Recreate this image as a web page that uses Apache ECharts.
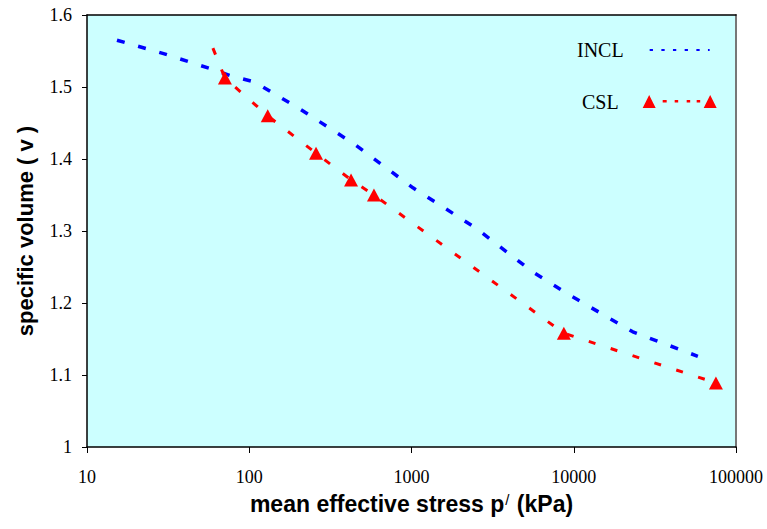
<!DOCTYPE html>
<html>
<head>
<meta charset="utf-8">
<script src="https://cdn.jsdelivr.net/npm/echarts@6/dist/echarts.min.js"></script>
<style>
  html, body { margin: 0; padding: 0; background: #ffffff; }
  #chart { width: 767px; height: 529px; }
</style>
</head>
<body>
<div id="chart"></div>
<script>
// ---- data ----
const seriesNames = ['INCL', 'CSL'];
const inclP = [15.3, 30, 56.5, 78.2, 108, 144, 191, 442, 1021, 2495, 5520, 9590, 23100, 58200];
const inclV = [1.565, 1.546, 1.526, 1.515, 1.507, 1.490, 1.474, 1.421, 1.360, 1.304, 1.244, 1.210, 1.160, 1.126];
const cslP = [59.7, 70.8, 130, 258, 424, 587, 8690, 75200];
const cslV = [1.554, 1.5125, 1.460, 1.408, 1.371, 1.350, 1.158, 1.089];
const xTicks = [10, 100, 1000, 10000, 100000];
const yTicks = [1, 1.1, 1.2, 1.3, 1.4, 1.5, 1.6];

const xTitle = 'mean effective stress p{sup|/} (kPa)';
const yTitle = 'specific volume ( v )';

const zip = (a, b) => a.map((x, i) => [x, b[i]]);

const serif = '"Liberation Serif", "Times New Roman", serif';
const sans = '"Liberation Sans", Arial, sans-serif';

const chart = echarts.init(document.getElementById('chart'), null, { renderer: 'svg' });

const inclIcon = 'path://M0,0h3.3v2h-3.3z M11.7,0h3.3v2h-3.3z M23.3,0h3.3v2h-3.3z M35,0h3.3v2h-3.3z M46.7,0h3.3v2h-3.3z M58.3,0h1.7v2h-1.7z';
const cslIcon = 'path://M0,13L6.5,0L13,13Z M20,5h4v2.4h-4z M32,5h3.5v2.4h-3.5z M44,5h3.5v2.4h-3.5z M54,5h3.5v2.4h-3.5z M61,13L67.5,0L74,13Z';

const option = {
  backgroundColor: '#ffffff',
  animation: false,
  grid: {
    left: 87, right: 31, top: 15, bottom: 82,
    show: true, backgroundColor: '#CCFFFF', borderWidth: 0,
    containLabel: false, outerBoundsMode: 'none'
  },
  legend: [
    {
      data: [{ name: seriesNames[0], icon: inclIcon }],
      left: 577, top: 35, padding: 0,
      orient: 'vertical', align: 'right',
      itemWidth: 60, itemHeight: 2,
      selectedMode: false,
      itemStyle: { borderWidth: 0 },
      textStyle: { fontFamily: serif, fontSize: 20, color: '#000', lineHeight: 20, padding: [0, 21, 10, 0] }
    },
    {
      data: [{ name: seriesNames[1], icon: cslIcon }],
      left: 582, top: 91.5, padding: 0,
      orient: 'vertical', align: 'right',
      itemWidth: 74, itemHeight: 13,
      selectedMode: false,
      itemStyle: { borderWidth: 0 },
      textStyle: { fontFamily: serif, fontSize: 20, color: '#000', lineHeight: 20, padding: [0, 19, 0, 0] }
    }
  ],
  xAxis: [
    {
      type: 'log', logBase: 10, min: xTicks[0], max: xTicks[xTicks.length - 1],
      splitNumber: xTicks.length - 1,
      name: xTitle, nameLocation: 'middle', nameGap: 45,
      nameTextStyle: {
        fontFamily: sans, fontSize: 23, fontWeight: 'bold', color: '#000',
        rich: { sup: { fontFamily: sans, fontSize: 15, fontWeight: 'normal', color: '#000', verticalAlign: 'top', lineHeight: 23, padding: [0, 1, 8, 1] } }
      },
      axisLine: { show: true, lineStyle: { color: '#000', width: 1.5 } },
      axisTick: { show: true, inside: false, length: 6, lineStyle: { color: '#000', width: 1 } },
      minorTick: { show: false },
      splitLine: { show: false },
      axisLabel: { margin: 21, fontFamily: serif, fontSize: 18, color: '#000', formatter: v => String(v) }
    },
    {
      type: 'log', logBase: 10, min: xTicks[0], max: xTicks[xTicks.length - 1], position: 'top',
      axisLine: { show: true, lineStyle: { color: '#000', width: 1.5 } },
      axisTick: { show: false }, axisLabel: { show: false }, splitLine: { show: false }
    }
  ],
  yAxis: [
    {
      type: 'value', min: yTicks[0], max: yTicks[yTicks.length - 1], interval: 0.1,
      name: yTitle, nameLocation: 'middle', nameGap: 51,
      nameTextStyle: { fontFamily: sans, fontSize: 22, fontWeight: 'bold', color: '#000' },
      axisLine: { show: true, lineStyle: { color: '#000', width: 1.5 } },
      axisTick: { show: true, inside: false, length: 5, lineStyle: { color: '#000', width: 1 } },
      splitLine: { show: false },
      axisLabel: { margin: 15, fontFamily: serif, fontSize: 18, color: '#000', formatter: v => String(Math.round(v * 10) / 10) }
    },
    {
      type: 'value', min: yTicks[0], max: yTicks[yTicks.length - 1], position: 'right',
      axisLine: { show: true, lineStyle: { color: '#777777', width: 2 } },
      axisTick: { show: false }, axisLabel: { show: false }, splitLine: { show: false }
    }
  ],
  series: [
    {
      name: seriesNames[0], type: 'line', xAxisIndex: 0, yAxisIndex: 0,
      data: zip(inclP, inclV),
      smooth: false, showSymbol: false, symbol: 'none',
      color: '#0000FF',
      lineStyle: { color: '#0000FF', width: 3.5, type: [8, 14], cap: 'butt' },
      z: 3
    },
    {
      name: seriesNames[1], type: 'line', xAxisIndex: 0, yAxisIndex: 0,
      data: zip(cslP, cslV),
      smooth: false,
      symbol: 'triangle',
      symbolSize: (val, params) => params.dataIndex === 0 ? 0 : [14, 13],
      color: '#FF0000',
      itemStyle: { color: '#FF0000', borderWidth: 0 },
      lineStyle: { color: '#FF0000', width: 3, type: [7, 16], cap: 'butt' },
      z: 4
    }
  ]
};

chart.setOption(option);
</script>
</body>
</html>
